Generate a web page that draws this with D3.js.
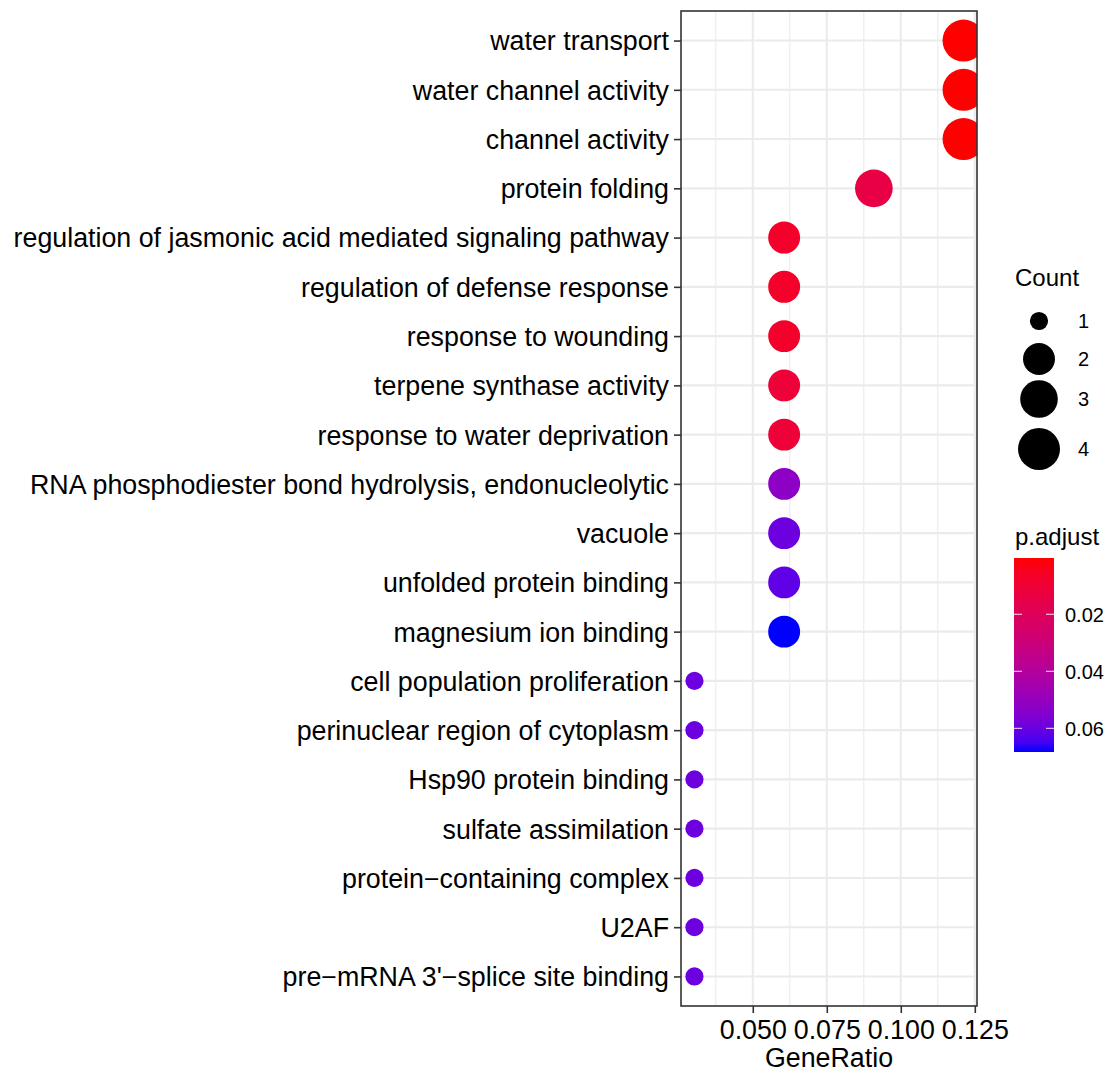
<!DOCTYPE html>
<html>
<head>
<meta charset="utf-8">
<script src="https://cdn.jsdelivr.net/npm/d3@7"></script>
<style>
  html, body { margin: 0; padding: 0; background: #fff; }
  svg { display: block; font-family: "Liberation Sans", Arial, Helvetica, sans-serif; }
</style>
</head>
<body>
<svg id="chart" width="1109" height="1073"></svg>
<script>
// GO enrichment terms, top to bottom
const terms = [
  "water transport",
  "water channel activity",
  "channel activity",
  "protein folding",
  "regulation of jasmonic acid mediated signaling pathway",
  "regulation of defense response",
  "response to wounding",
  "terpene synthase activity",
  "response to water deprivation",
  "RNA phosphodiester bond hydrolysis, endonucleolytic",
  "vacuole",
  "unfolded protein binding",
  "magnesium ion binding",
  "cell population proliferation",
  "perinuclear region of cytoplasm",
  "Hsp90 protein binding",
  "sulfate assimilation",
  "protein\u2212containing complex",
  "U2AF",
  "pre\u2212mRNA 3'\u2212splice site binding"
];
const geneRatio = [0.1212, 0.1212, 0.1212, 0.0909, 0.0606, 0.0606, 0.0606, 0.0606, 0.0606, 0.0606,
                   0.0606, 0.0606, 0.0606, 0.0303, 0.0303, 0.0303, 0.0303, 0.0303, 0.0303, 0.0303];
const counts = [4, 4, 4, 3, 2, 2, 2, 2, 2, 2, 2, 2, 2, 1, 1, 1, 1, 1, 1, 1];
const pAdjust = [0.00025, 0.00025, 0.00025, 0.0139, 0.0071, 0.0071, 0.0071, 0.0108, 0.0108, 0.0520,
                 0.0594, 0.0615, 0.0683, 0.0594, 0.0594, 0.0594, 0.0594, 0.0594, 0.0594, 0.0594];
const xTicks = [0.050, 0.075, 0.100, 0.125];
const xMinorTicks = [0.0375, 0.0625, 0.0875, 0.1125];
const countLevels = [1, 2, 3, 4];
const pTicks = [0.02, 0.04, 0.06];

const rows = terms.map((t, i) => ({ term: t, ratio: geneRatio[i], count: counts[i], p: pAdjust[i] }));

const svg = d3.select("#chart");
const panel = { left: 681, right: 977, top: 11, bottom: 1006 };
const FONT = 26.8;

// x scale with 5% expansion around the data range
const [rMin, rMax] = d3.extent(geneRatio);
const pad = (rMax - rMin) * 0.05;
const x = d3.scaleLinear().domain([rMin - pad, rMax + pad]).range([panel.left, panel.right]);
const y = d3.scalePoint().domain(terms).range([panel.top, panel.bottom]).padding(0.6);

// point size: diameter linear in sqrt of rescaled count
const countNorm = d3.scaleLinear().domain(d3.extent(counts)).range([0, 1]);
const radiusFromSqrt = d3.scaleLinear().domain([0, 1]).range([9.1, 21]);
const radius = c => radiusFromSqrt(Math.sqrt(countNorm(c)));

// colour: low p.adjust red, high blue, interpolated in Lab
const color = d3.scaleLinear().domain(d3.extent(pAdjust)).range(["red", "blue"]).interpolate(d3.interpolateLab);

// clip region for the panel
svg.append("defs").append("clipPath").attr("id", "panelClip")
  .append("rect")
  .attr("x", panel.left).attr("y", panel.top)
  .attr("width", panel.right - panel.left).attr("height", panel.bottom - panel.top);

// grid lines
const grid = svg.append("g");
grid.selectAll("line.minor").data(xMinorTicks).join("line")
  .attr("x1", d => x(d)).attr("x2", d => x(d))
  .attr("y1", panel.top).attr("y2", panel.bottom)
  .attr("stroke", "#ebebeb").attr("stroke-width", 1.1);
grid.selectAll("line.majorx").data(xTicks).join("line")
  .attr("x1", d => x(d)).attr("x2", d => x(d))
  .attr("y1", panel.top).attr("y2", panel.bottom)
  .attr("stroke", "#ebebeb").attr("stroke-width", 2.1);
grid.selectAll("line.majory").data(terms).join("line")
  .attr("x1", panel.left).attr("x2", panel.right)
  .attr("y1", d => y(d)).attr("y2", d => y(d))
  .attr("stroke", "#ebebeb").attr("stroke-width", 2.1);

// points
svg.append("g").attr("clip-path", "url(#panelClip)")
  .selectAll("circle").data(rows).join("circle")
  .attr("cx", d => x(d.ratio))
  .attr("cy", d => y(d.term))
  .attr("r", d => radius(d.count))
  .attr("fill", d => color(d.p));

// panel border
svg.append("rect")
  .attr("x", panel.left).attr("y", panel.top)
  .attr("width", panel.right - panel.left).attr("height", panel.bottom - panel.top)
  .attr("fill", "none").attr("stroke", "#333333").attr("stroke-width", 1.6);

// axes
const yAxis = svg.append("g").attr("transform", `translate(${panel.left},0)`)
  .call(d3.axisLeft(y).tickSize(7).tickPadding(5).tickSizeOuter(0));
const xAxis = svg.append("g").attr("transform", `translate(0,${panel.bottom})`)
  .call(d3.axisBottom(x).tickValues(xTicks).tickFormat(d3.format(".3f")).tickSize(7).tickPadding(5).tickSizeOuter(0));
[yAxis, xAxis].forEach(a => {
  a.select(".domain").remove();
  a.selectAll(".tick line").attr("stroke", "#333333").attr("stroke-width", 1.6);
  a.selectAll(".tick text").attr("fill", "#000").style("font-size", FONT + "px").style("font-family", "Liberation Sans, Arial, sans-serif");
});
yAxis.selectAll(".tick text").attr("dy", "0.35em");
xAxis.selectAll(".tick text").attr("dy", "0.78em");

svg.append("text")
  .attr("x", (panel.left + panel.right) / 2).attr("y", 1067)
  .attr("text-anchor", "middle").attr("font-size", FONT).attr("fill", "#000")
  .text("GeneRatio");

// size legend
const legX = 1039;
svg.append("text").attr("x", 1015).attr("y", 286).attr("font-size", 24).attr("fill", "#000").text("Count");
const sizeKeyY = [321, 359, 399, 449];
const sizeLeg = svg.append("g");
countLevels.forEach((c, i) => {
  sizeLeg.append("circle").attr("cx", legX).attr("cy", sizeKeyY[i]).attr("r", radius(c)).attr("fill", "#000");
  sizeLeg.append("text").attr("x", 1078).attr("y", sizeKeyY[i]).attr("dy", "0.36em")
    .attr("font-size", 20).attr("fill", "#000").text(c);
});

// colour bar legend
svg.append("text").attr("x", 1015).attr("y", 545).attr("font-size", 24).attr("fill", "#000").text("p.adjust");
const bar = { x: 1014, w: 40, top: 558, bottom: 752 };
const pDomain = d3.extent(pAdjust);
const barY = d3.scaleLinear().domain(pDomain).range([bar.top, bar.bottom]);
const grad = svg.select("defs").append("linearGradient").attr("id", "pGrad")
  .attr("x1", 0).attr("y1", 0).attr("x2", 0).attr("y2", 1);
d3.range(0, 1.0001, 0.05).forEach(t => {
  grad.append("stop").attr("offset", t)
    .attr("stop-color", color(pDomain[0] + t * (pDomain[1] - pDomain[0])));
});
svg.append("rect").attr("x", bar.x).attr("y", bar.top).attr("width", bar.w)
  .attr("height", bar.bottom - bar.top).attr("fill", "url(#pGrad)");
const barTicks = svg.append("g");
pTicks.forEach(v => {
  const yy = barY(v);
  barTicks.append("line").attr("x1", bar.x).attr("x2", bar.x + 8).attr("y1", yy).attr("y2", yy)
    .attr("stroke", "#fff").attr("stroke-width", 1.1).attr("opacity", 0.8);
  barTicks.append("line").attr("x1", bar.x + bar.w - 8).attr("x2", bar.x + bar.w).attr("y1", yy).attr("y2", yy)
    .attr("stroke", "#fff").attr("stroke-width", 1.1).attr("opacity", 0.8);
  barTicks.append("text").attr("x", 1065).attr("y", yy).attr("dy", "0.36em")
    .attr("font-size", 20).attr("fill", "#000").text(d3.format(".2f")(v));
});
</script>
</body>
</html>
